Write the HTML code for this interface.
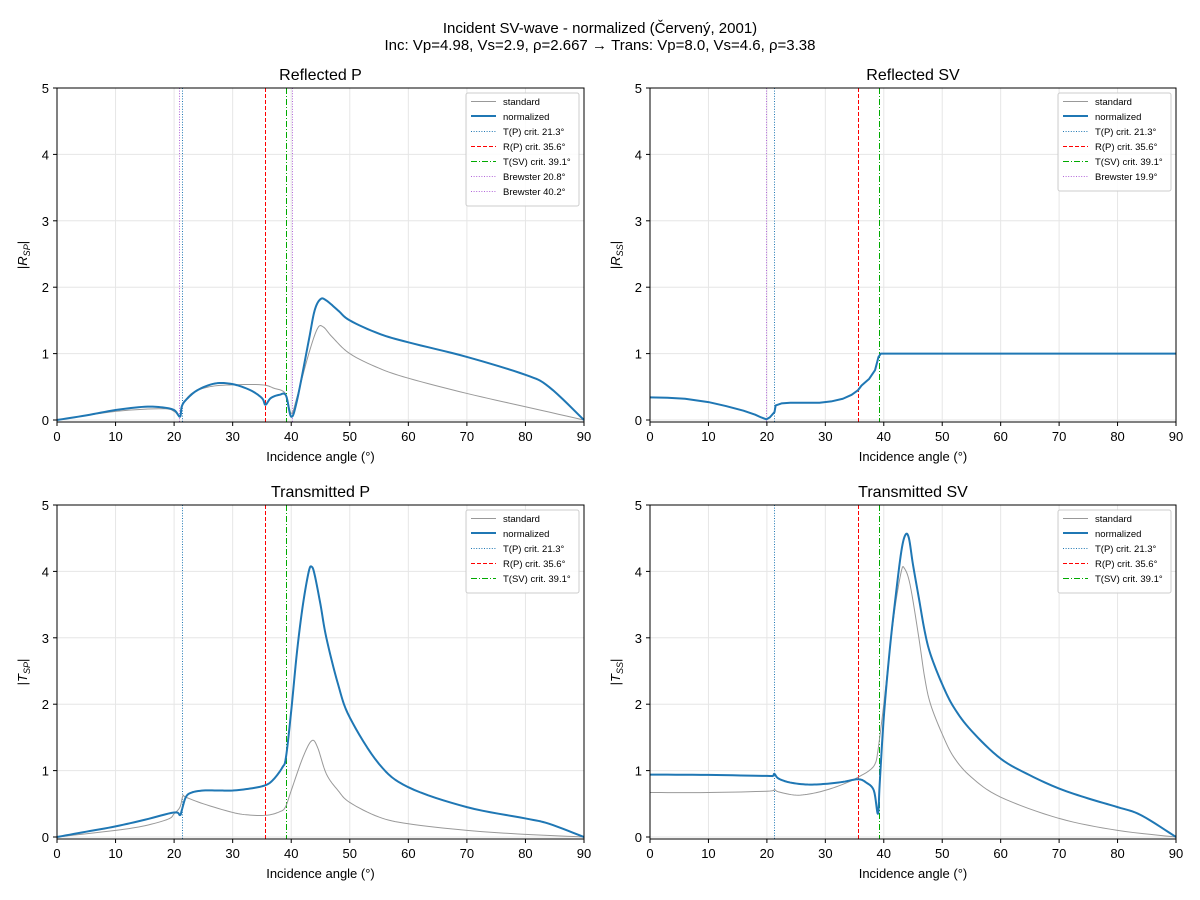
<!DOCTYPE html>
<html><head><meta charset="utf-8"><style>body{margin:0;background:#fff}svg{display:block;font-family:"Liberation Sans","DejaVu Sans",sans-serif}</style></head>
<body><svg id="s" width="1200" height="900" xmlns="http://www.w3.org/2000/svg"></svg>
<script>
const S=document.getElementById('s');let h='';
h+='<text x="600" y="33" text-anchor="middle" font-size="15">Incident SV-wave - normalized (Červený, 2001)</text>';
h+='<text x="600" y="50" text-anchor="middle" font-size="15">Inc: Vp=4.98, Vs=2.9, ρ=2.667  →  Trans: Vp=8.0, Vs=4.6, ρ=3.38</text>';
function smooth(d){const o=[];for(let i=0;i<d.length-1;i++){const p0=d[Math.max(0,i-1)],p1=d[i],p2=d[i+1],p3=d[Math.min(d.length-1,i+2)];
 for(let k=0;k<8;k++){const t=k/8,t2=t*t,t3=t2*t;const f=(a,b,c,e)=>0.5*((2*b)+(-a+c)*t+(2*a-5*b+4*c-e)*t2+(-a+3*b-3*c+e)*t3);
 let x=f(p0[0],p1[0],p2[0],p3[0]);x=Math.min(Math.max(x,p1[0]),p2[0]);
 o.push([x,f(p0[1],p1[1],p2[1],p3[1])]);}}o.push(d[d.length-1]);return o;}
const pat={dot:[1,1.6],dash:[4,2],dd:[6,2,1,2]};
function dashV(x,y0,y1,c,p){let s='',y=y0,i=0;while(y<y1){const L=p[i%p.length];if(i%2==0)s+=`<rect x="${x}" y="${y}" width="1" height="${Math.min(L,y1-y)}" fill="${c}"/>`;y+=L;i++;}return s;}
function dashH(x0,x1,y,c,p){let s='',x=x0,i=0;while(x<x1){const L=p[i%p.length];if(i%2==0)s+=`<rect x="${x}" y="${y}" width="${Math.min(L,x1-x)}" height="1" fill="${c}"/>`;x+=L;i++;}return s;}
function panel(x0,y0,w,hh,title,yl,sub,norm,std,vl,leg,lin){
 const X=a=>x0+a/90*w, Y=v=>y0+hh-(v+0.03)/5.03*hh;
 let g='';
 for(let a=0;a<=90;a+=10){g+=`<line x1="${X(a)}" y1="${y0}" x2="${X(a)}" y2="${y0+hh}" stroke="#e6e6e6"/>`;
  g+=`<line x1="${X(a)}" y1="${y0+hh}" x2="${X(a)}" y2="${y0+hh+4}" stroke="#000"/><text x="${X(a)}" y="${y0+hh+19}" text-anchor="middle" font-size="13">${a}</text>`;}
 for(let v=0;v<=5;v++){g+=`<line x1="${x0}" y1="${Y(v)}" x2="${x0+w}" y2="${Y(v)}" stroke="#e6e6e6"/>`;
  g+=`<line x1="${x0-4}" y1="${Y(v)}" x2="${x0}" y2="${Y(v)}" stroke="#000"/><text x="${x0-8}" y="${Y(v)+5}" text-anchor="end" font-size="13">${v}</text>`;}
 const pl=(d,c,sw)=>`<polyline fill="none" stroke="${c}" stroke-width="${sw}" stroke-linejoin="round" points="${(lin?d:smooth(d)).map(p=>X(p[0]).toFixed(2)+','+Y(p[1]).toFixed(2)).join(' ')}"/>`;
 for(const v of vl){g+=dashV(Math.round(X(v[0])),y0,y0+hh,v[1],pat[v[2]]);}
 g+=pl(std,'#999',1)+pl(norm,'#1f77b4',2);
 g+=`<rect x="${x0}" y="${y0}" width="${w}" height="${hh}" fill="none" stroke="#000"/>`;
 g+=`<text x="${x0+w/2}" y="${y0-8}" text-anchor="middle" font-size="16">${title}</text>`;
 g+=`<text x="${x0+w/2}" y="${y0+hh+39}" text-anchor="middle" font-size="13">Incidence angle (°)</text>`;
 g+=`<text transform="translate(${x0-30},${y0+hh/2}) rotate(-90)" text-anchor="middle" font-size="13">|<tspan font-style="italic">${yl}</tspan><tspan font-size="9" font-style="italic" dy="3">${sub}</tspan><tspan dy="-3">|</tspan></text>`;
 const lx=x0+w-118, ly=y0+5, lh=15*leg.length+8;
 g+=`<rect x="${lx}" y="${ly}" width="113" height="${lh}" fill="#fff" fill-opacity="0.85" stroke="#ccc" rx="2"/>`;
 leg.forEach((l,i)=>{const yy=ly+12+i*15;
  if(pat[l[2]])g+=dashH(lx+5,lx+30,yy-4,l[1],pat[l[2]]);
  else g+=`<rect x="${lx+5}" y="${yy-(l[2]=='n'?5:4)}" width="25" height="${l[2]=='n'?2:1}" fill="${l[1]}"/>`;
  g+=`<text x="${lx+37}" y="${yy}" font-size="9.5">${l[0]}</text>`;});
 return g;}
const B='#1f77b4',RD='#ff0000',G='#00aa00',P='#b266d9';
const L3=[['standard','#999','s'],['normalized',B,'n'],['T(P) crit. 21.3°',B,'dot'],['R(P) crit. 35.6°',RD,'dash'],['T(SV) crit. 39.1°',G,'dd']];
h+=panel(57,88,527,334,'Reflected P','R','SP',
[[0,0],[5,0.07],[10,0.15],[15,0.2],[18,0.19],[20,0.15],[21,0.05],[21.3,0.2],[22,0.3],[24,0.45],[27,0.55],[30,0.54],[33,0.45],[35,0.33],[35.6,0.23],[36.5,0.33],[38,0.38],[39.1,0.37],[40,0.05],[41,0.3],[43,1.2],[44,1.65],[45,1.82],[46,1.8],[48,1.65],[50,1.5],[55,1.3],[60,1.17],[70,0.95],[80,0.68],[84,0.5],[90,0]],
[[0,0],[10,0.13],[18,0.17],[20,0.13],[21,0.05],[21.3,0.2],[23,0.4],[26,0.5],[30,0.53],[35,0.53],[37,0.48],[39,0.4],[40,0.1],[41,0.35],[43,1.0],[44.5,1.38],[45.5,1.4],[47,1.25],[50,1.0],[55,0.78],[60,0.63],[70,0.4],[80,0.2],[90,0]],
[[21.3,B,'dot'],[20.8,P,'dot'],[35.6,RD,'dash'],[39.1,G,'dd'],[40.2,P,'dot']],
L3.concat([['Brewster 20.8°',P,'dot'],['Brewster 40.2°',P,'dot']]));
const rs=[[0,0.34],[3,0.335],[6,0.32],[10,0.27],[13,0.21],[16,0.14],[18,0.08],[19,0.04],[19.9,0.01],[20.5,0.04],[21.3,0.12],[21.5,0.22],[22.5,0.25],[24,0.26],[26,0.26],[29,0.26],[31,0.28],[33,0.32],[34.5,0.38],[35.6,0.45],[36.2,0.52],[37.5,0.62],[38.5,0.75],[39.1,0.95],[39.5,1],[90,1]];
h+=panel(650,88,526,334,'Reflected SV','R','SS',rs,rs,
[[21.3,B,'dot'],[19.9,P,'dot'],[35.6,RD,'dash'],[39.1,G,'dd']],L3.concat([['Brewster 19.9°',P,'dot']]),true);
h+=panel(57,505,527,334,'Transmitted P','T','SP',
[[0,0],[5,0.08],[10,0.16],[15,0.26],[20,0.37],[21,0.33],[21.3,0.4],[22,0.6],[23,0.67],[25,0.7],[28,0.7],[30,0.7],[33,0.73],[35.6,0.78],[37,0.87],[38.5,1.05],[39.1,1.2],[40,1.9],[41,2.8],[42,3.5],[43,4.0],[43.5,4.07],[44,3.95],[45,3.5],[46,3.0],[48,2.3],[50,1.8],[55,1.1],[60,0.75],[70,0.45],[80,0.28],[84,0.2],[90,0]],
[[0,0],[10,0.1],[15,0.17],[19,0.27],[20,0.35],[21,0.45],[21.5,0.62],[22,0.6],[25,0.5],[30,0.37],[33,0.33],[36,0.33],[38,0.38],[39,0.45],[40,0.7],[42,1.2],[43.5,1.45],[44.5,1.35],[46,0.95],[48,0.7],[50,0.52],[55,0.3],[60,0.2],[70,0.1],[80,0.04],[90,0]],
[[21.3,B,'dot'],[35.6,RD,'dash'],[39.1,G,'dd']],L3);
h+=panel(650,505,526,334,'Transmitted SV','T','SS',
[[0,0.94],[10,0.935],[20,0.92],[21,0.92],[21.3,0.95],[22,0.88],[24,0.82],[27,0.79],[30,0.8],[33,0.83],[35.6,0.87],[37,0.82],[38.3,0.7],[39,0.35],[39.3,0.8],[40,1.8],[41,2.8],[42,3.6],[43,4.3],[43.7,4.55],[44.3,4.5],[45,4.1],[46,3.6],[47,3.1],[48,2.75],[50,2.3],[52,1.95],[55,1.6],[60,1.18],[65,0.93],[70,0.73],[75,0.58],[80,0.45],[84,0.33],[90,0]],
[[0,0.67],[10,0.67],[20,0.69],[21.3,0.71],[22,0.68],[25,0.63],[28,0.66],[31,0.73],[34,0.83],[36,0.92],[37.5,1.0],[38.5,1.1],[39,1.3],[40,2.0],[41,2.8],[42,3.5],[43,4.0],[43.5,4.05],[44.5,3.8],[46,3.0],[47,2.4],[48,2.0],[50,1.55],[52,1.2],[55,0.9],[60,0.6],[70,0.28],[80,0.1],[90,0]],
[[21.3,B,'dot'],[35.6,RD,'dash'],[39.1,G,'dd']],L3);
S.innerHTML=h;
</script></body></html>
